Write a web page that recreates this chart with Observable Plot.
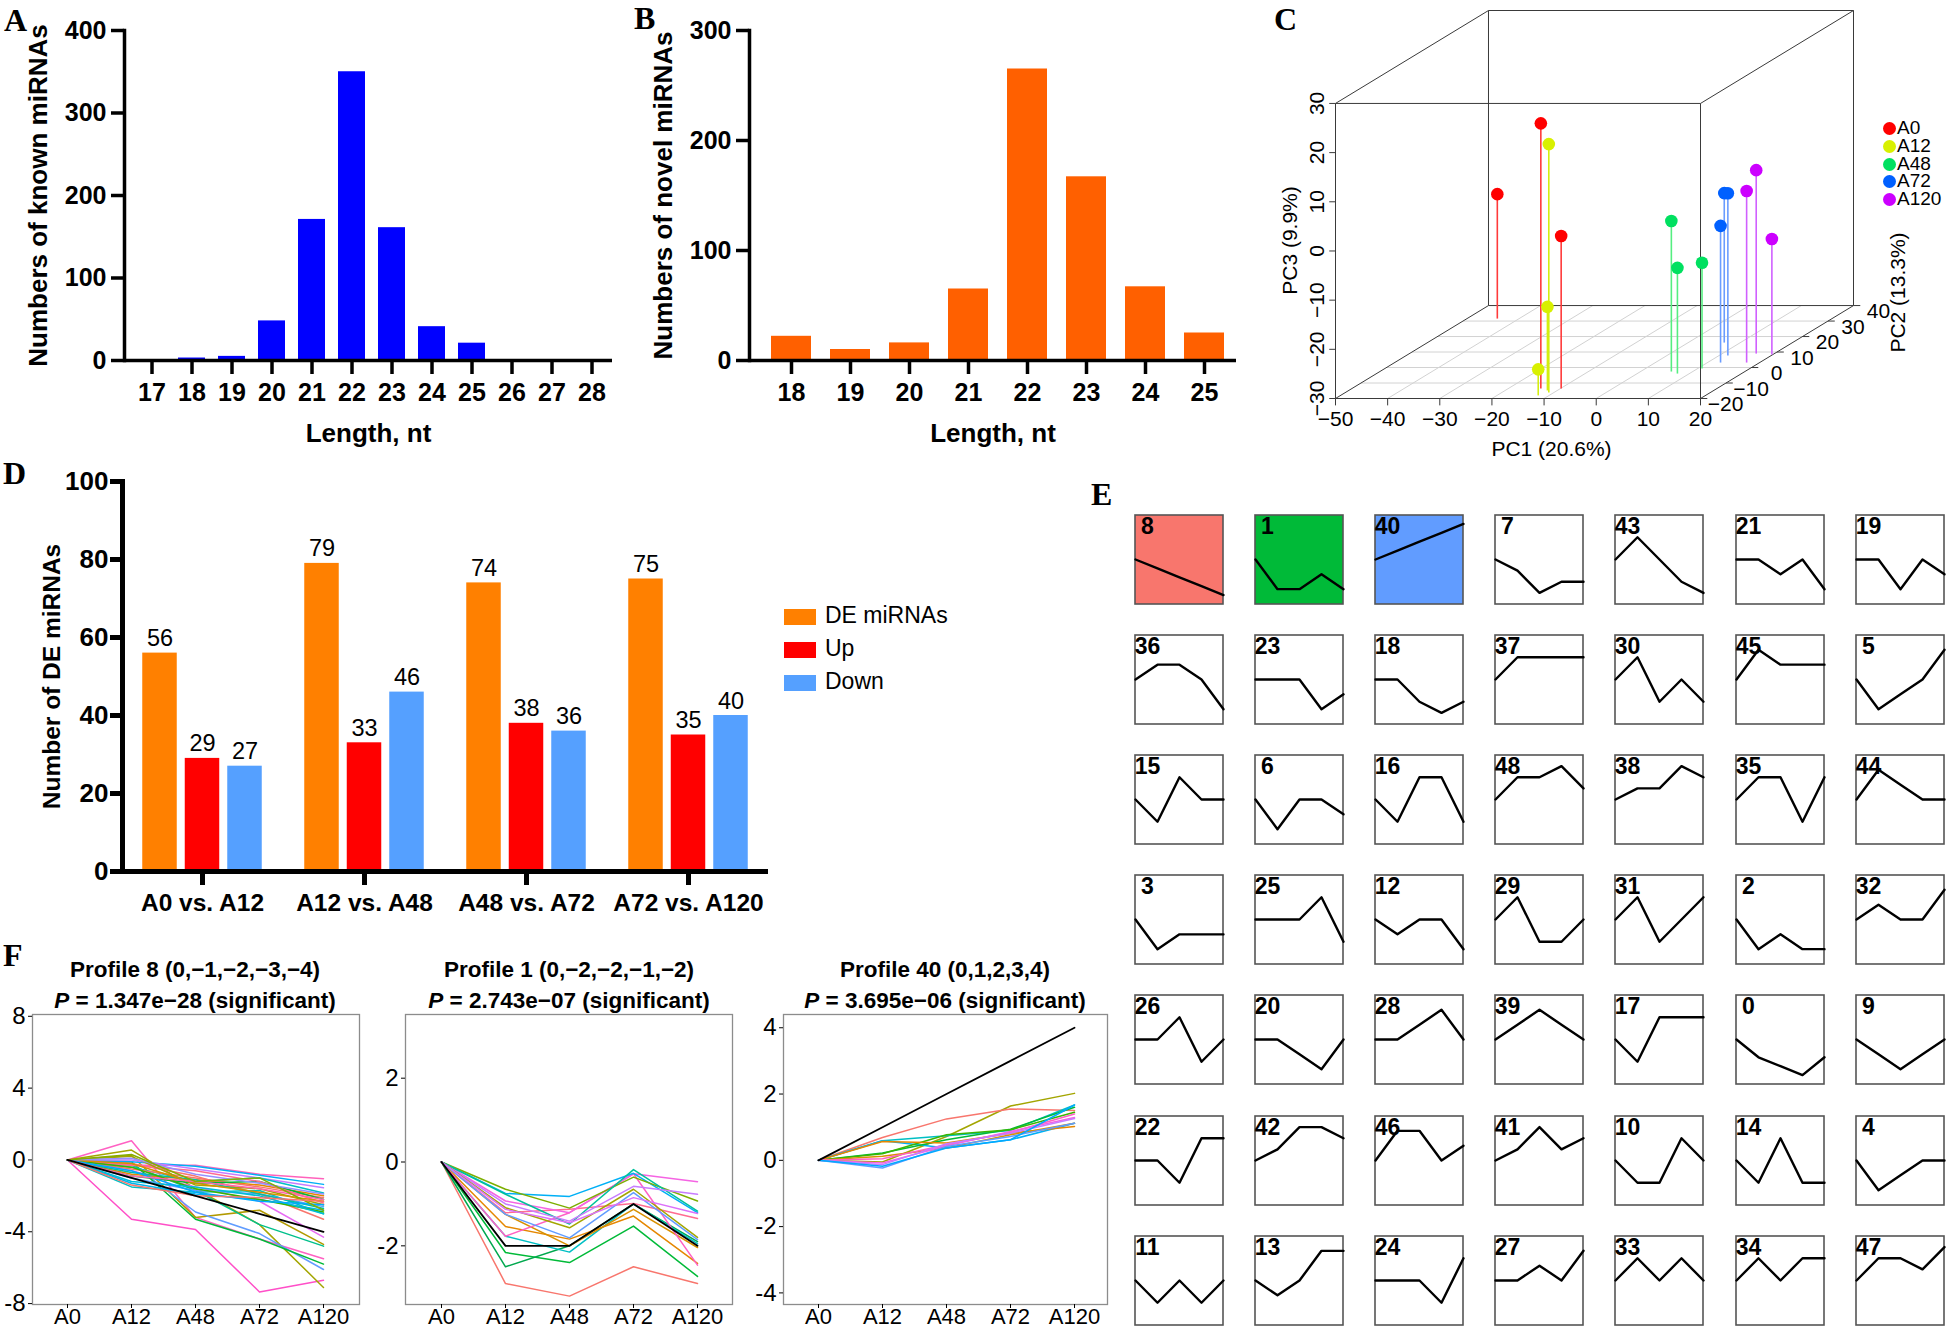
<!DOCTYPE html>
<html><head><meta charset="utf-8">
<script src="https://cdn.jsdelivr.net/npm/d3@7"></script>
<script src="https://cdn.jsdelivr.net/npm/@observablehq/plot@0.6"></script>
<style>
body{margin:0;background:#fff;}
#root{position:relative;width:1946px;height:1334px;overflow:hidden;background:#fff;font-family:'Liberation Sans',Arial,Helvetica,sans-serif;color:#000;}
.letter{position:absolute;font-family:'Liberation Serif','Times New Roman',serif;font-weight:bold;font-size:32px;line-height:1;}
.ftitle{position:absolute;width:440px;text-align:center;font-weight:bold;font-size:22.5px;line-height:31px;white-space:nowrap;}
.lgD{position:absolute;font-size:23px;line-height:20px;white-space:nowrap;}
.lgD span{display:inline-block;width:32px;height:16px;vertical-align:middle;margin-right:9px;}
.lgC{position:absolute;font-size:19px;line-height:18px;white-space:nowrap;}
.lgC span{display:inline-block;width:13px;height:13px;border-radius:50%;vertical-align:-1px;margin-right:1px;}
</style></head>
<body><div id="root"></div>
<script>
// ---------------- DATA ----------------
// A: known miRNA length distribution
const knownLengths = [17,18,19,20,21,22,23,24,25,26,27,28];
const knownCounts  = [0,3,5,48,171,350,161,41,21,1,0,0];
// B: novel miRNA length distribution
const novelLengths = [18,19,20,21,22,23,24,25];
const novelCounts  = [22,10,16,65,265,167,67,25];
// C: PCA samples
const pcaGroups = ["A0","A12","A48","A72","A120"];
const pcaGroup = ["A0","A0","A0","A12","A12","A12","A48","A48","A48","A72","A72","A72","A120","A120","A120"];
const pc1 = [-44.2,-13.8,-9.9,-11.0,-11.9,-12.1,5.9,7.7,10.8,6.9,11.7,12.5,16.5,17.5,19.8];
const pc2 = [31.6,-13.5,-13.5,-16.1,-14.8,-18.0,-2.6,-3.9,-0.6,16.1,7.7,3.2,9.0,3.2,8.4];
const pc3 = [-4.7,23.9,1.0,20.5,-13.0,-24.7,0.6,-8.5,-8.5,0.4,3.0,-2.2,7.3,4.9,-6.5];
const pc1Ticks = [-50,-40,-30,-20,-10,0,10,20];
const pc2Ticks = [-20,-10,0,10,20,30,40];
const pc3Ticks = [-30,-20,-10,0,10,20,30];
// D: DE miRNAs
const comparisons = ["A0 vs. A12","A12 vs. A48","A48 vs. A72","A72 vs. A120"];
const deSeries = ["DE miRNAs","Up","Down"];
const deTotal = [56,79,74,75];
const deUp    = [29,33,38,35];
const deDown  = [27,46,36,40];
// E: STEM model profiles
const timePoints = ["A0","A12","A48","A72","A120"];
const profileIds = [8,1,40,7,43,21,19, 36,23,18,37,30,45,5, 15,6,16,48,38,35,44, 3,25,12,29,31,2,32, 26,20,28,39,17,0,9, 22,42,46,41,10,14,4, 11,13,24,27,33,34,47];
const profileShapes = [
 [0,-1,-2,-3,-4],[0,-2,-2,-1,-2],[0,1,2,3,4],[0,-1,-3,-2,-2],[0,2,0,-2,-3],[0,0,-1,0,-2],[0,0,-2,0,-1],
 [0,1,1,0,-2],[0,0,0,-2,-1],[0,0,-2,-3,-2],[0,1,1,1,1],[0,1,-1,0,-1],[0,2,1,1,1],[0,-2,-1,0,2],
 [0,-1,1,0,0],[0,-2,0,0,-1],[0,-1,1,1,-1],[0,2,2,3,1],[0,1,1,3,2],[0,1,1,-1,1],[0,2,1,0,0],
 [0,-2,-1,-1,-1],[0,0,0,1,-1],[0,-1,0,0,-2],[0,1,-1,-1,0],[0,1,-1,0,1],[0,-2,-1,-2,-2],[0,1,0,0,2],
 [0,0,1,-1,0],[0,0,-1,-2,0],[0,0,1,2,0],[0,1,2,1,0],[0,-1,1,1,1],[0,-2,-3,-4,-2],[0,-1,-2,-1,0],
 [0,0,-1,1,1],[0,1,3,3,2],[0,2,2,0,1],[0,1,3,1,2],[0,-1,-1,1,0],[0,-1,1,-1,-1],[0,-2,-1,0,0],
 [0,-1,0,-1,0],[0,-1,0,2,2],[0,0,0,-1,1],[0,0,1,0,2],[0,1,0,1,0],[0,1,0,1,1],[0,2,2,1,3]
];
// F: genes in significant profiles
const fTitles = ["Profile 8 (0,\u22121,\u22122,\u22123,\u22124)","Profile 1 (0,\u22122,\u22122,\u22121,\u22122)","Profile 40 (0,1,2,3,4)"];
const fPvalues = ["1.347e\u221228","2.743e\u221207","3.695e\u221206"];
const f1Model = [0,-1,-2,-3,-4];
const f2Model = [0,-2,-2,-1,-2];
const f3Model = [0,1,2,3,4];
const f1Lines = [
 [0,1.07,-3.2,-4.4,-5.5],[0,-3.3,-3.87,-7.35,-6.7],[0,0.55,-1.6,-3.6,-7.1],[0,0.25,-3.2,-2.8,-4.7],
 [0,-0.2,-2.9,-4.1,-6.1],[0,-0.1,-3.3,-4.4,-5.8],[0,-0.3,-1.7,-3.6,-4.8],[0,-0.6,-1.5,-2.3,-4.3],
 [0,-0.2,-0.9,-1.9,-3.3],[0,-1.5,-1.8,-1.7,-3.0],[0,-1.3,-1.9,-2.2,-2.8],[0,-0.3,-0.3,-0.8,-1.05],
 [0,-0.1,-0.35,-0.85,-1.36],[0,0.0,-0.5,-1.0,-1.55],[0,-0.4,-1.2,-1.0,-1.84],[0,-0.8,-1.1,-1.4,-2.0],
 [0,-0.5,-1.0,-1.5,-2.1],[0,-0.9,-1.3,-1.2,-2.2],[0,-0.3,-0.6,-1.2,-2.4],[0,0.2,-1.4,-1.6,-2.5],
 [0,-1.0,-1.7,-1.9,-2.6],[0,-0.7,-1.1,-1.9,-2.7],[0,-0.4,-1.6,-2.2,-2.9],[0,-1.2,-1.5,-2.0,-3.0],
 [0,-0.2,-1.3,-1.8,-2.3],[0,0.1,-0.8,-1.3,-1.9],[0,-0.6,-1.8,-2.3,-2.5],[0,-0.9,-1.2,-1.6,-2.2],
 [0,0.3,-1.2,-1.0,-2.8],[0,-1.4,-2.0,-2.1,-2.3]
];
const f2Lines = [
 [0,-2.9,-3.2,-2.5,-2.9],[0,-2.16,-2.4,-1.53,-2.73],[0,-2.5,-2.0,-1.0,-1.9],[0,-1.77,-2.15,-1.0,-1.95],
 [0,-1.54,-1.84,-1.29,-2.42],[0,-1.25,-2.0,-1.13,-2.04],[0,-1.77,-1.21,-0.28,-2.46],[0,-1.21,-1.13,-0.99,-1.35],
 [0,-0.93,-1.21,-0.28,-0.47],[0,-0.75,-0.82,-0.27,-1.21],[0,-0.65,-1.1,-0.36,-0.93],[0,-0.77,-1.48,-0.18,-1.17],
 [0,-1.0,-1.41,-0.58,-0.77],[0,-1.09,-1.57,-0.65,-1.8],[0,-1.25,-1.81,-0.73,-1.85],[0,-1.13,-1.45,-0.85,-1.23]
];
const f3Lines = [
 [0,-0.05,0.72,1.64,2.02],[0,0.69,1.25,1.55,1.5],[0,0.59,0.74,0.9,1.67],[0,0.59,0.37,0.62,1.12],
 [0,0.22,0.62,0.94,1.6],[0,0.2,0.77,0.92,1.45],[0,0.57,0.52,0.82,1.02],[0,0.12,0.37,0.77,1.12],
 [0,0.05,0.47,0.84,1.4],[0,-0.08,0.44,0.87,1.29],[0,-0.13,0.5,0.82,1.26],[0,-0.23,0.42,0.72,1.12],
 [0,-0.18,0.37,0.62,1.67]
];

// ---------------- STYLES ----------------
const FONT = "'Liberation Sans', Arial, Helvetica, sans-serif";
const pcaColors = {A0:"#FF0000",A12:"#D8F000",A48:"#00E060",A72:"#0060FF",A120:"#CC00FF"};
const stemColors = {A0:"#FF3A3A",A12:"#D4EE10",A48:"#55EE80",A72:"#6A9CFF",A120:"#D060FF"};
const deColors = ["#FF8000","#FF0000","#55A0FF"];
const highlightFill = {8:"#F8766D",1:"#00BA38",40:"#619CFF"};
const f1Colors = ["#FF61C3","#FF4FC8","#A3A500","#B29A00","#619CFF","#00BA38","#00C08B","#E76BF3",
 "#F8766D","#00BFC4","#00B4EF","#FF62BC","#00B0F6","#C77CFF","#00BFC4","#E58700",
 "#F8766D","#00BA38","#FF6C91","#A3A500","#619CFF","#00C1A3","#39B600","#00BCD8",
 "#D89000","#9590FF","#00A9FF","#FF65AE","#85AD00","#F8766D"];
const f2Colors = ["#F8766D","#00BA38","#00A84E","#00BFC4","#E58700","#D89000","#FF61C3","#FF6C91",
 "#F564E3","#00B0F6","#7CAE00","#00C19A","#C77CFF","#A3A500","#619CFF","#DC71FA"];
const f3Colors = ["#A3A500","#F8766D","#00BFC4","#00B0F6","#00BA38","#39B600","#E58700","#D89000",
 "#FF61C3","#F564E3","#C77CFF","#619CFF","#00A9FF"];

const root = document.getElementById("root");
function mount(node, left, top, w, h) {
  const d = document.createElement("div");
  d.style.cssText = `position:absolute;left:${left}px;top:${top}px;width:${w}px;height:${h}px;`;
  d.appendChild(node);
  root.appendChild(d);
  return d;
}
function html(str, cls, left, top) {
  const d = document.createElement("div");
  d.className = cls;
  d.style.left = left + "px"; d.style.top = top + "px";
  d.innerHTML = str;
  root.appendChild(d);
  return d;
}
const baseStyle = (fs) => ({fontFamily: FONT, fontSize: fs + "px", background: "transparent", overflow: "visible"});

// ---------------- A & B ----------------
function lengthChart({lengths, counts, color, yTicks, width, marginLeft, marginRight, xRange, yTitle}) {
  const rows = lengths.map((l, i) => ({len: l, n: counts[i]}));
  return Plot.plot({
    width, height: 460, marginLeft, marginRight, marginTop: 30, marginBottom: 100,
    style: baseStyle(25),
    x: {type: "band", domain: lengths, range: xRange, padding: 0.33},
    y: {domain: [yTicks[0], yTicks[yTicks.length - 1]]},
    marks: [
      Plot.barY(rows, {x: "len", y: "n", fill: color}),
      Plot.axisY({ticks: yTicks, tickSize: 13, tickPadding: 5, strokeWidth: 3.5, fontWeight: "bold", fontSize: 25, label: null}),
      Plot.axisX({tickSize: 14, tickPadding: 9, strokeWidth: 3.5, fontWeight: "bold", fontSize: 25, label: null}),
      Plot.ruleY([0], {strokeWidth: 3.5}),
      Plot.frame({anchor: "left", strokeWidth: 3.5}),
      Plot.text(["Length, nt"], {frameAnchor: "bottom", dy: 73, fontSize: 26, fontWeight: "bold", lineAnchor: "middle", textAnchor: "middle"}),
      Plot.text([yTitle], {frameAnchor: "left", dx: -86, rotate: -90, fontSize: 26, fontWeight: "bold", textAnchor: "middle", lineAnchor: "middle"})
    ]
  });
}
mount(lengthChart({lengths: knownLengths, counts: knownCounts, color: "#0000FF", yTicks: [0,100,200,300,400],
  width: 630, marginLeft: 124, marginRight: 18, xRange: [124.4, 619], yTitle: "Numbers of known miRNAs"}), 0, 0, 630, 460);
mount(lengthChart({lengths: novelLengths, counts: novelCounts, color: "#FF6000", yTicks: [0,100,200,300],
  width: 620, marginLeft: 129, marginRight: 4, xRange: [129.5, 624.3], yTitle: "Numbers of novel miRNAs"}), 620, 0, 620, 460);

// ---------------- C (3D PCA) ----------------
{
  const KX = 0.489, KY = 0.315;
  const a0 = pc1Ticks[0], a1 = pc1Ticks[pc1Ticks.length - 1];
  const b0 = pc2Ticks[0], b1 = pc2Ticks[pc2Ticks.length - 1];
  const c0 = pc3Ticks[0], c1 = pc3Ticks[pc3Ticks.length - 1];
  const P = (a, b, c) => [a + KX * (b - b0), c + KY * (b - b0)];
  const seg = (arr, p, q) => arr.push({x1: p[0], y1: p[1], x2: q[0], y2: q[1]});
  const edges = [], grid = [], tk1 = [], tk2 = [], tk3 = [];
  for (const b of [b0, b1]) {
    seg(edges, P(a0,b,c0), P(a1,b,c0)); seg(edges, P(a0,b,c1), P(a1,b,c1));
    seg(edges, P(a0,b,c0), P(a0,b,c1)); seg(edges, P(a1,b,c0), P(a1,b,c1));
  }
  for (const a of [a0, a1]) for (const c of [c0, c1]) seg(edges, P(a,b0,c), P(a,b1,c));
  pc2Ticks.slice(1, -1).forEach(b => seg(grid, P(a0,b,c0), P(a1,b,c0)));
  pc1Ticks.slice(1, -1).forEach(a => seg(grid, P(a,b0,c0), P(a,b1,c0)));
  pc1Ticks.forEach(a => { const p = P(a,b0,c0); seg(tk1, p, [p[0], p[1] - 1.4]); });
  pc3Ticks.forEach(c => { const p = P(a0,b0,c); seg(tk3, p, [p[0] - 1.2, p[1]]); });
  pc2Ticks.forEach(b => { const p = P(a1,b,c0); seg(tk2, p, [p[0] + 1.3, p[1]]); });
  const fmt = d => d < 0 ? "\u2212" + Math.abs(d) : String(d);
  const samples = pcaGroup.map((g, i) => {
    const p = P(pc1[i], pc2[i], pc3[i]), f = P(pc1[i], pc2[i], c0);
    return {g, u: p[0], v: p[1], uf: f[0], vf: f[1]};
  });
  const l1 = pc1Ticks.map(a => ({t: fmt(a), p: P(a,b0,c0)}));
  const l2 = pc2Ticks.map(b => ({t: fmt(b), p: P(a1,b,c0)}));
  const l3 = pc3Ticks.map(c => ({t: fmt(c), p: P(a0,b0,c)}));
  const plotC = Plot.plot({
    width: 706, height: 460, margin: 0, axis: null,
    style: baseStyle(21),
    x: {domain: [a0, a1 + KX * (b1 - b0)], range: [95, 613]},
    y: {domain: [c0, c1 + KY * (b1 - b0)], range: [398, 10]},
    color: {type: "identity"},
    marks: [
      Plot.link(grid, {x1: "x1", y1: "y1", x2: "x2", y2: "y2", stroke: "#d2d2d2", strokeWidth: 1}),
      Plot.link(edges, {x1: "x1", y1: "y1", x2: "x2", y2: "y2", stroke: "#3a3a3a", strokeWidth: 1}),
      Plot.link(tk1, {x1: "x1", y1: "y1", x2: "x2", y2: "y2", stroke: "#3a3a3a"}),
      Plot.link(tk2, {x1: "x1", y1: "y1", x2: "x2", y2: "y2", stroke: "#3a3a3a"}),
      Plot.link(tk3, {x1: "x1", y1: "y1", x2: "x2", y2: "y2", stroke: "#3a3a3a"}),
      Plot.link(samples, {x1: "u", y1: "v", x2: "uf", y2: "vf", stroke: d => stemColors[d.g], strokeWidth: 1.6}),
      Plot.dot(samples, {x: "u", y: "v", r: 6.3, fill: d => pcaColors[d.g], stroke: null}),
      Plot.text(l1, {x: d => d.p[0], y: d => d.p[1], text: "t", dy: 21, fontSize: 21}),
      Plot.text(l3, {x: d => d.p[0], y: d => d.p[1], text: "t", dx: -18, rotate: -90, fontSize: 21}),
      Plot.text(l2, {x: d => d.p[0], y: d => d.p[1], text: "t", dx: 25, dy: 6, fontSize: 21}),
      Plot.text(["PC1 (20.6%)"], {frameAnchor: "top-left", dx: 311, dy: 449, textAnchor: "middle", lineAnchor: "middle", fontSize: 21}),
      Plot.text(["PC3 (9.9%)"], {frameAnchor: "top-left", dx: 50, dy: 240, rotate: -90, textAnchor: "middle", lineAnchor: "middle", fontSize: 21}),
      Plot.text(["PC2 (13.3%)"], {frameAnchor: "top-left", dx: 658, dy: 292, rotate: -90, textAnchor: "middle", lineAnchor: "middle", fontSize: 21})
    ]
  });
  mount(plotC, 1240, 0, 706, 460);
  pcaGroups.forEach((g, i) => html(`<span style="background:${pcaColors[g]}"></span>${g}`, "lgC", 1883, 119 + i * 17.8));
}

// ---------------- D ----------------
{
  const rows = comparisons.map((c, i) => ({c, total: deTotal[i], up: deUp[i], down: deDown[i]}));
  const keys = ["total", "up", "down"];
  const offs = [-42.5, 0, 42.5];
  const bars = keys.map((k, j) => Plot.barY(rows, {x: "c", y: k, fill: deColors[j], insetLeft: 63.75, insetRight: 63.75, dx: offs[j]}));
  const labels = keys.map((k, j) => Plot.text(rows, {x: "c", y: k, text: k, dx: offs[j], dy: -7, lineAnchor: "bottom", fontSize: 23.5}));
  const plotD = Plot.plot({
    width: 780, height: 470, marginLeft: 122, marginRight: 12, marginTop: 21, marginBottom: 59,
    style: baseStyle(25),
    x: {type: "band", domain: comparisons, range: [120.25, 770.25], padding: 0},
    y: {domain: [0, 100]},
    marks: [
      ...bars, ...labels,
      Plot.axisY({ticks: [0,20,40,60,80,100], tickSize: 12, tickPadding: 2, strokeWidth: 5, fontWeight: "bold", fontSize: 26, label: null}),
      Plot.axisX({tickSize: 14, tickPadding: 8, strokeWidth: 5, fontWeight: "bold", fontSize: 24.5, label: null}),
      Plot.ruleY([0], {strokeWidth: 5}),
      Plot.frame({anchor: "left", strokeWidth: 5}),
      Plot.text(["Number of DE miRNAs"], {frameAnchor: "left", dx: -70, rotate: -90, fontSize: 24.5, fontWeight: "bold", textAnchor: "middle", lineAnchor: "middle"})
    ]
  });
  mount(plotD, 0, 460, 780, 470);
  deSeries.forEach((s, j) => html(`<span style="background:${deColors[j]}"></span>${s}`, "lgD", 784, 605 + j * 33));
}

// ---------------- E ----------------
profileIds.forEach((id, k) => {
  const col = k % 7, row = Math.floor(k / 7);
  const vals = profileShapes[k];
  const m = d3.max(vals, v => Math.abs(v)) + 1;
  const rows = vals.map((v, j) => ({t: timePoints[j], v}));
  const p = Plot.plot({
    width: 91, height: 92, margin: 1.5, axis: null,
    style: baseStyle(22),
    x: {type: "point", domain: timePoints, padding: 0},
    y: {domain: [-m, m]},
    marks: [
      Plot.frame({fill: highlightFill[id] || "white", stroke: "#555", strokeWidth: 1.6}),
      Plot.line(rows, {x: "t", y: "v", stroke: "black", strokeWidth: 2.4}),
      Plot.text([String(id)], {frameAnchor: "top-left", dx: 12.5, dy: 11.5, textAnchor: "middle", lineAnchor: "middle", fontSize: 23, fontWeight: "bold"})
    ]
  });
  mount(p, 1132.5 + col * 120.2, 512.5 + row * 120.2, 91, 92);
});

// ---------------- F ----------------
function profileLines({lines, colors, model, yDomain, yTicks, width, marginLeft, marginRight, xRange}) {
  const rows = [];
  lines.forEach((ln, i) => ln.forEach((v, j) => rows.push({s: i, t: timePoints[j], v, c: colors[i]})));
  const mrows = model.map((v, j) => ({t: timePoints[j], v}));
  return Plot.plot({
    width, height: 334, marginLeft, marginRight, marginTop: 14, marginBottom: 30,
    style: baseStyle(23),
    x: {type: "point", domain: timePoints, range: xRange},
    y: {domain: yDomain},
    color: {type: "identity"},
    marks: [
      Plot.frame({stroke: "#8c8c8c", strokeWidth: 1.3}),
      Plot.line(rows, {x: "t", y: "v", z: "s", stroke: "c", strokeWidth: 1.5}),
      Plot.line(mrows, {x: "t", y: "v", stroke: "black", strokeWidth: 1.8}),
      Plot.axisY({ticks: yTicks, tickSize: 4, tickPadding: 3, fontSize: 24, tickFormat: d => String(d), label: null}),
      Plot.axisX({tickSize: 4, tickPadding: 0, fontSize: 22, label: null})
    ]
  });
}
mount(profileLines({lines: f1Lines, colors: f1Colors, model: f1Model, yDomain: [-8.05, 8.1], yTicks: [-8,-4,0,4,8],
  width: 380, marginLeft: 32, marginRight: 21, xRange: [35, 355]}), 0, 1000, 380, 334);
mount(profileLines({lines: f2Lines, colors: f2Colors, model: f2Model, yDomain: [-3.4, 3.52], yTicks: [-2,0,2],
  width: 380, marginLeft: 35, marginRight: 18, xRange: [38, 360]}), 370, 1000, 380, 334);
mount(profileLines({lines: f3Lines, colors: f3Colors, model: f3Model, yDomain: [-4.35, 4.4], yTicks: [-4,-2,0,2,4],
  width: 380, marginLeft: 38, marginRight: 18, xRange: [41, 361]}), 745, 1000, 380, 334);
const fCenters = [195, 569, 945];
fTitles.forEach((t, i) => html(`${t}<br><i>P</i> = ${fPvalues[i]} (significant)`, "ftitle", fCenters[i] - 220, 954));

// ---------------- panel letters ----------------
[["A",4,4],["B",634,2],["C",1274,3],["D",3,457],["E",1091,478],["F",3,939]].forEach(([t,x,y]) => html(t, "letter", x, y));
</script>
</body></html>
